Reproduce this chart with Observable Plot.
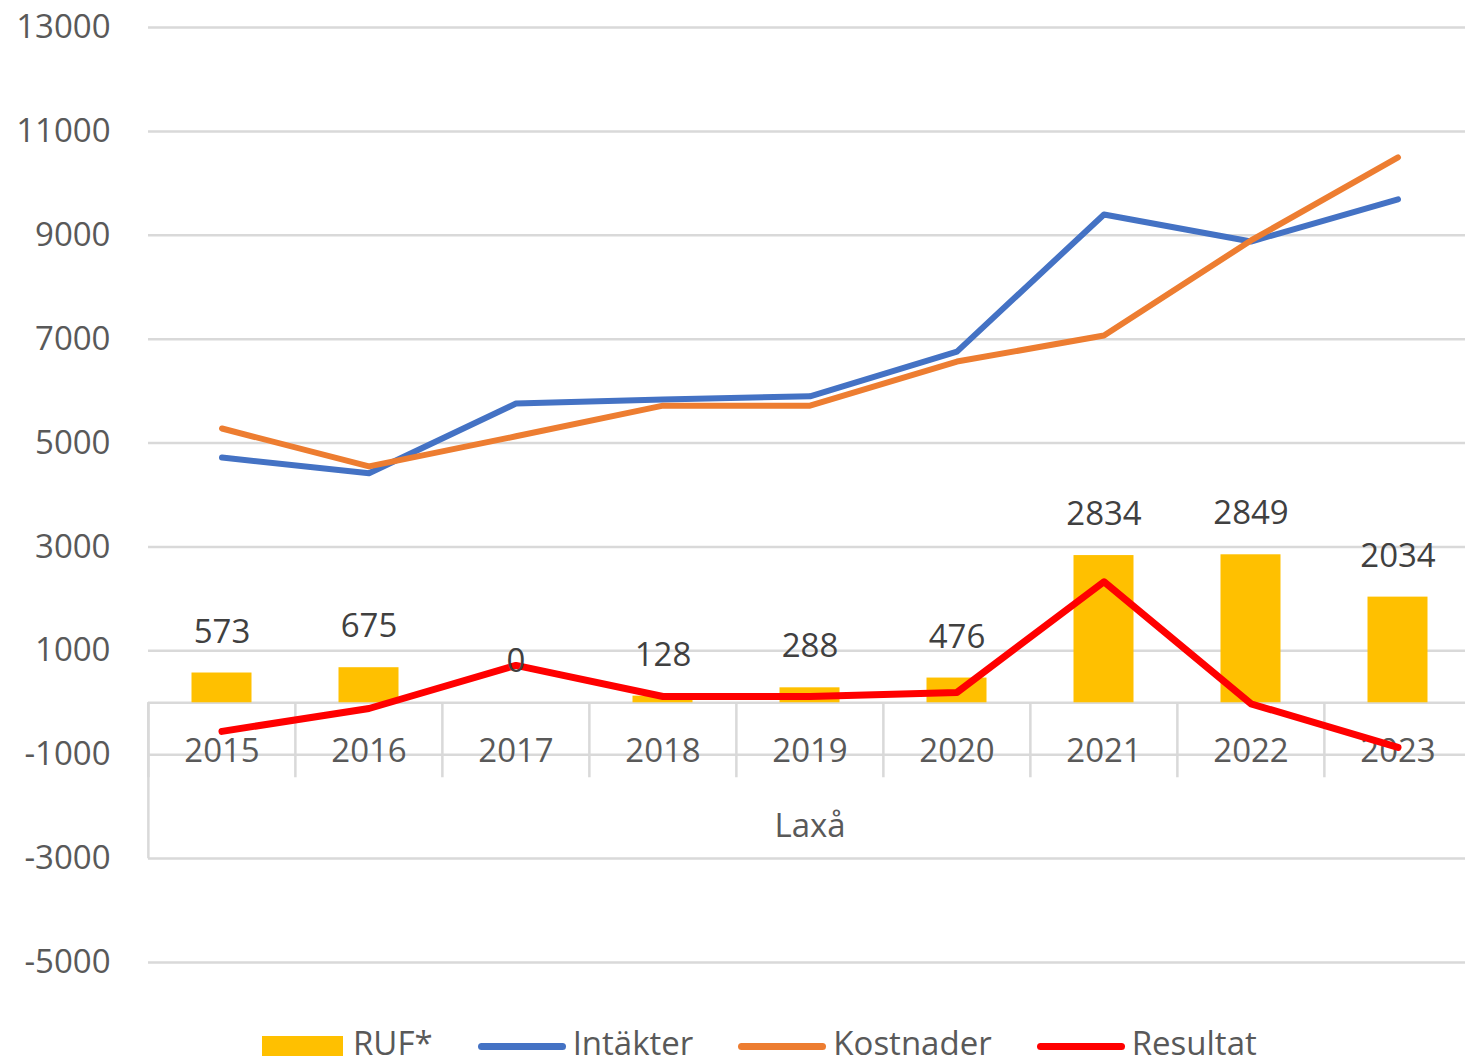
<!DOCTYPE html>
<html>
<head>
<meta charset="utf-8">
<script src="https://cdn.jsdelivr.net/npm/d3@7"></script>
<script src="https://cdn.jsdelivr.net/npm/@observablehq/plot@0.6"></script>
<style>
  html, body { margin: 0; padding: 0; background: #fff; }
  #chart svg { display: block; }
  #legend { display: flex; align-items: center; height: 48px; padding-left: 262px;
            font-family: "Open Sans", sans-serif; font-size: 33px; color: #595959; white-space: nowrap; }
  #legend .item { display: flex; align-items: center; margin-right: 45px; }
  #legend .rect { width: 81px; height: 20px; margin-right: 10px; }
  #legend .line { width: 88px; height: 7px; border-radius: 4px; margin-right: 7px; }
  #legend .label { position: relative; top: -4px; line-height: 1; }
</style>
</head>
<body>
<div id="chart"></div>
<div id="legend"></div>
<script>
const years = ["2015", "2016", "2017", "2018", "2019", "2020", "2021", "2022", "2023"];
const ruf = [573, 675, 0, 128, 288, 476, 2834, 2849, 2034];
const intakter = [4720, 4420, 5760, 5840, 5900, 6760, 9400, 8880, 9690];
const kostnader = [5280, 4550, 5130, 5720, 5720, 6570, 7070, 8900, 10500];
const resultat = [-550, -110, 720, 120, 120, 200, 2330, -20, -860];
const yTicks = [-5000, -3000, -1000, 1000, 3000, 5000, 7000, 9000, 11000, 13000];
const groupLabel = "Laxå";
const seriesNames = ["RUF*", "Intäkter", "Kostnader", "Resultat"];
const seriesColors = ["#FFC000", "#4472C4", "#ED7D31", "#FF0000"];

const data = years.map((year, i) => ({
  year, ruf: ruf[i], intakter: intakter[i], kostnader: kostnader[i], resultat: resultat[i]
}));

const band = 147.25;
const xStart = 147;
const gridStyle = {stroke: "#d9d9d9", strokeOpacity: 1, strokeWidth: 2.5};
const lineStyle = {strokeLinecap: "round", strokeLinejoin: "round"};

const chart = Plot.plot({
  width: 1465,
  height: 1022,
  marginLeft: 148,
  marginRight: 0,
  marginTop: 27,
  marginBottom: 60,
  style: {fontFamily: "'Open Sans', sans-serif", fontSize: "33px", background: "#fff"},
  x: {type: "band", domain: years, range: [xStart, xStart + band * years.length], paddingInner: 0, paddingOuter: 0, axis: null},
  y: {domain: [-5000, 13000], axis: null},
  marks: [
    Plot.gridY(yTicks, gridStyle),
    Plot.ruleY([0], gridStyle),
    Plot.ruleX(years, {x: d => d, y1: () => 0, y2: () => 0, dx: -band / 2, insetBottom: -75, ...gridStyle}),
    Plot.ruleX([years[0]], {x: d => d, y1: () => 0, y2: () => 0, dx: -band / 2, insetBottom: -156, ...gridStyle}),
    Plot.axisY(yTicks, {tickSize: 0, tickPadding: 38, fontSize: 33, fill: "#595959", tickFormat: d => String(d)}),
    Plot.text(years, {x: d => d, y: () => 0, dy: 49, text: d => d, fontSize: 33, fill: "#595959"}),
    Plot.text([groupLabel], {x: () => years[4], y: () => 0, dy: 124, text: d => d, fontSize: 33, fill: "#595959"}),
    Plot.barY(data, {x: "year", y: "ruf", fill: seriesColors[0], insetLeft: 43.5, insetRight: 43.5}),
    Plot.line(data, {x: "year", y: "intakter", stroke: seriesColors[1], strokeWidth: 6, ...lineStyle}),
    Plot.line(data, {x: "year", y: "kostnader", stroke: seriesColors[2], strokeWidth: 6, ...lineStyle}),
    Plot.line(data, {x: "year", y: "resultat", stroke: seriesColors[3], strokeWidth: 7, ...lineStyle}),
    Plot.text(data, {x: "year", y: "ruf", text: d => String(d.ruf), dy: -41, fontSize: 33, fill: "#404040"})
  ]
});
document.getElementById("chart").appendChild(chart);

const legend = document.getElementById("legend");
seriesNames.forEach((name, i) => {
  const item = document.createElement("div");
  item.className = "item";
  const sw = document.createElement("span");
  sw.className = i === 0 ? "rect" : "line";
  sw.style.background = seriesColors[i];
  const label = document.createElement("span");
  label.className = "label";
  label.textContent = name;
  item.appendChild(sw);
  item.appendChild(label);
  legend.appendChild(item);
});
</script>
</body>
</html>
